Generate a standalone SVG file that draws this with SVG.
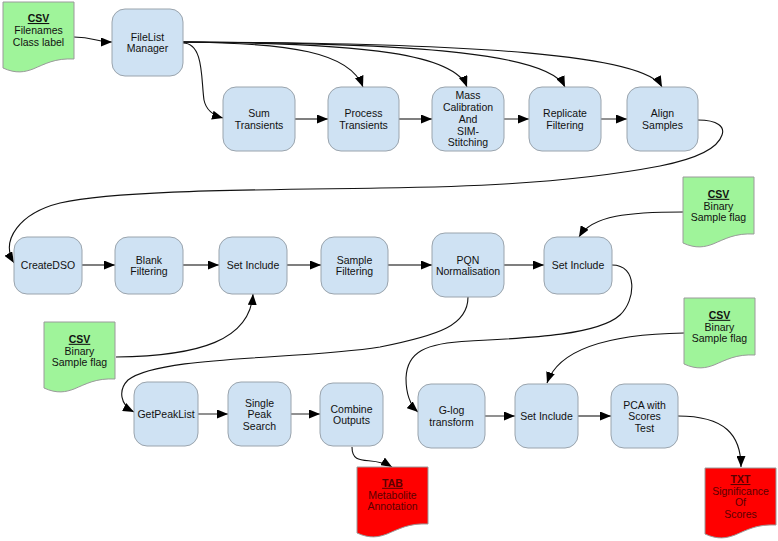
<svg xmlns="http://www.w3.org/2000/svg" width="778" height="541" viewBox="0 0 778 541">
<defs>
<style>
.n{fill:#cfe2f3;stroke:#9aa4ad;stroke-width:1}
.t{font-family:"Liberation Sans",Arial,sans-serif;font-size:10.5px;fill:#111;text-anchor:middle}
.h{font-weight:bold;text-decoration:underline}
.g{fill:#9ff49a;stroke:#9a9a9a;stroke-width:1}
.r{fill:#ff0000;stroke:#9a9a9a;stroke-width:1}
.rt{fill:#5a0000}
.c{fill:none;stroke:#111;stroke-width:1.1}
.s{fill:none;stroke:#555;stroke-width:1.3}
</style>
<marker id="a" markerUnits="userSpaceOnUse" markerWidth="12" markerHeight="9" refX="11" refY="4.5" orient="auto">
<path d="M0,0 L11,4.5 L0,9 Z" fill="#000"/>
</marker>
<path id="doc" d="M0,0 H71 V57 C52,56 42,62 30,67 C22,70 13,72 0,66 Z"/>
</defs>
<rect width="778" height="541" fill="#fff"/>

<g id="connectors">
<path class="c" marker-end="url(#a)" d="M74,37 C95,37 95,42 112,42"/>
<path class="c" marker-end="url(#a)" d="M183,43 C204,43 201,80 204,100 C206,110 212,115 223,118"/>
<path class="c" marker-end="url(#a)" d="M183,42 C290,43 350,52 363,87"/>
<path class="c" marker-end="url(#a)" d="M183,42 C370,43 455,55 467,87"/>
<path class="c" marker-end="url(#a)" d="M183,42 C430,43 550,55 565,87"/>
<path class="c" marker-end="url(#a)" d="M183,42 C480,43 645,55 662,87"/>
<path class="s" marker-end="url(#a)" d="M295,119 H328"/>
<path class="s" marker-end="url(#a)" d="M399,119 H432"/>
<path class="s" marker-end="url(#a)" d="M504,119 H529"/>
<path class="s" marker-end="url(#a)" d="M601,119 H627"/>
<path class="c" marker-end="url(#a)" d="M698,120 C718,120 725,127 722,135 C718,148 700,158 660,166 C560,185 450,187 380,188 C250,190 120,190 60,203 C20,213 0,240 14,263"/>
<path class="s" marker-end="url(#a)" d="M82,265 H115"/>
<path class="s" marker-end="url(#a)" d="M183,265 H219"/>
<path class="s" marker-end="url(#a)" d="M287,265 H321"/>
<path class="s" marker-end="url(#a)" d="M388,265 H432"/>
<path class="s" marker-end="url(#a)" d="M504,265 H544"/>
<path class="c" marker-end="url(#a)" d="M683,212 C630,212 592,215 579,237"/>
<path class="c" marker-end="url(#a)" d="M116,357 C200,356 250,340 253,294"/>
<path class="c" marker-end="url(#a)" d="M468,297 C468,325 440,335 380,347 C300,360 160,355 128,380 C118,390 120,405 134,412"/>
<path class="c" marker-end="url(#a)" d="M612,265 C638,265 636,300 620,315 C598,335 530,338 470,341 C425,343 407,352 406,378 C406,395 410,405 418,412"/>
<path class="c" marker-end="url(#a)" d="M684,333 C620,334 560,345 547,383"/>
<path class="s" marker-end="url(#a)" d="M198,414 H228"/>
<path class="s" marker-end="url(#a)" d="M291,414 H320"/>
<path class="s" marker-end="url(#a)" d="M485,416 H515"/>
<path class="s" marker-end="url(#a)" d="M578,416 H611"/>
<path class="c" marker-end="url(#a)" d="M352,447 C352,468 372,455 392,467"/>
<path class="c" marker-end="url(#a)" d="M678,416 C725,416 741,435 741,467"/>
</g>

<g id="csv1">
<use href="#doc" class="g" x="3" y="2"/>
<text class="t h" x="38.5" y="22">CSV</text>
<text class="t" x="38.5" y="34">Filenames</text>
<text class="t" x="38.5" y="46">Class label</text>
</g>
<g id="filelist">
<rect class="n" x="112" y="9" width="71" height="67" rx="13"/>
<text class="t" x="147.5" y="40.5">FileList</text>
<text class="t" x="147.5" y="52.2">Manager</text>
</g>
<g id="sum">
<rect class="n" x="223" y="87" width="72" height="64" rx="13"/>
<text class="t" x="259" y="117">Sum</text>
<text class="t" x="259" y="128.7">Transients</text>
</g>
<g id="process">
<rect class="n" x="328" y="87" width="71" height="64" rx="13"/>
<text class="t" x="363.5" y="117">Process</text>
<text class="t" x="363.5" y="128.7">Transients</text>
</g>
<g id="mass">
<rect class="n" x="432" y="87" width="72" height="64" rx="13"/>
<text class="t" x="468" y="99.4">Mass</text>
<text class="t" x="468" y="111.1">Calibration</text>
<text class="t" x="468" y="122.8">And</text>
<text class="t" x="468" y="134.5">SIM-</text>
<text class="t" x="468" y="146.2">Stitching</text>
</g>
<g id="replicate">
<rect class="n" x="529" y="87" width="72" height="64" rx="13"/>
<text class="t" x="565" y="117">Replicate</text>
<text class="t" x="565" y="128.7">Filtering</text>
</g>
<g id="align">
<rect class="n" x="627" y="87" width="71" height="64" rx="13"/>
<text class="t" x="662.5" y="117">Align</text>
<text class="t" x="662.5" y="128.7">Samples</text>
</g>

<g id="createdso">
<rect class="n" x="14" y="237" width="68" height="57" rx="13"/>
<text class="t" x="48" y="269.3">CreateDSO</text>
</g>
<g id="blank">
<rect class="n" x="115" y="237" width="68" height="57" rx="13"/>
<text class="t" x="149" y="263.5">Blank</text>
<text class="t" x="149" y="275.2">Filtering</text>
</g>
<g id="setinclude1">
<rect class="n" x="219" y="237" width="68" height="57" rx="13"/>
<text class="t" x="253" y="269.3">Set Include</text>
</g>
<g id="samplefilt">
<rect class="n" x="321" y="237" width="67" height="57" rx="13"/>
<text class="t" x="354.5" y="263.5">Sample</text>
<text class="t" x="354.5" y="275.2">Filtering</text>
</g>
<g id="pqn">
<rect class="n" x="432" y="233" width="72" height="64" rx="13"/>
<text class="t" x="468" y="263.5">PQN</text>
<text class="t" x="468" y="275.2">Normalisation</text>
</g>
<g id="setinclude2">
<rect class="n" x="544" y="237" width="68" height="57" rx="13"/>
<text class="t" x="578" y="269.3">Set Include</text>
</g>
<g id="csv2">
<use href="#doc" class="g" x="683" y="177"/>
<text class="t h" x="718.5" y="197.8">CSV</text>
<text class="t" x="718.5" y="209.5">Binary</text>
<text class="t" x="718.5" y="221.2">Sample flag</text>
</g>
<g id="csv3">
<use href="#doc" class="g" x="44" y="322"/>
<text class="t h" x="79.5" y="342.8">CSV</text>
<text class="t" x="79.5" y="354.5">Binary</text>
<text class="t" x="79.5" y="366.2">Sample flag</text>
</g>

<g id="getpeaklist">
<rect class="n" x="134" y="382" width="64" height="64" rx="13"/>
<text class="t" x="166" y="418">GetPeakList</text>
</g>
<g id="singlepeak">
<rect class="n" x="228" y="382" width="63" height="64" rx="13"/>
<text class="t" x="259.5" y="406.5">Single</text>
<text class="t" x="259.5" y="418.2">Peak</text>
<text class="t" x="259.5" y="429.9">Search</text>
</g>
<g id="combine">
<rect class="n" x="320" y="383" width="63" height="63" rx="13"/>
<text class="t" x="351.5" y="412.5">Combine</text>
<text class="t" x="351.5" y="424.2">Outputs</text>
</g>
<g id="tab">
<use href="#doc" class="r" x="357" y="467"/>
<text class="t h rt" x="392.5" y="486.8">TAB</text>
<text class="t rt" x="392.5" y="498.5">Metabolite</text>
<text class="t rt" x="392.5" y="510.2">Annotation</text>
</g>
<g id="glog">
<rect class="n" x="418" y="384" width="67" height="64" rx="13"/>
<text class="t" x="451.5" y="414">G-log</text>
<text class="t" x="451.5" y="425.7">transform</text>
</g>
<g id="setinclude3">
<rect class="n" x="515" y="384" width="63" height="64" rx="13"/>
<text class="t" x="546.5" y="420">Set Include</text>
</g>
<g id="pca">
<rect class="n" x="611" y="384" width="67" height="64" rx="13"/>
<text class="t" x="644.5" y="408.5">PCA with</text>
<text class="t" x="644.5" y="420.2">Scores</text>
<text class="t" x="644.5" y="431.9">Test</text>
</g>
<g id="csv4">
<use href="#doc" class="g" x="684" y="298"/>
<text class="t h" x="719.5" y="318.8">CSV</text>
<text class="t" x="719.5" y="330.5">Binary</text>
<text class="t" x="719.5" y="342.2">Sample flag</text>
</g>
<g id="txt">
<use href="#doc" class="r" x="705" y="468"/>
<text class="t h rt" x="740.5" y="483">TXT</text>
<text class="t rt" x="740.5" y="494.7">Significance</text>
<text class="t rt" x="740.5" y="506.4">Of</text>
<text class="t rt" x="740.5" y="518.1">Scores</text>
</g>
</svg>
